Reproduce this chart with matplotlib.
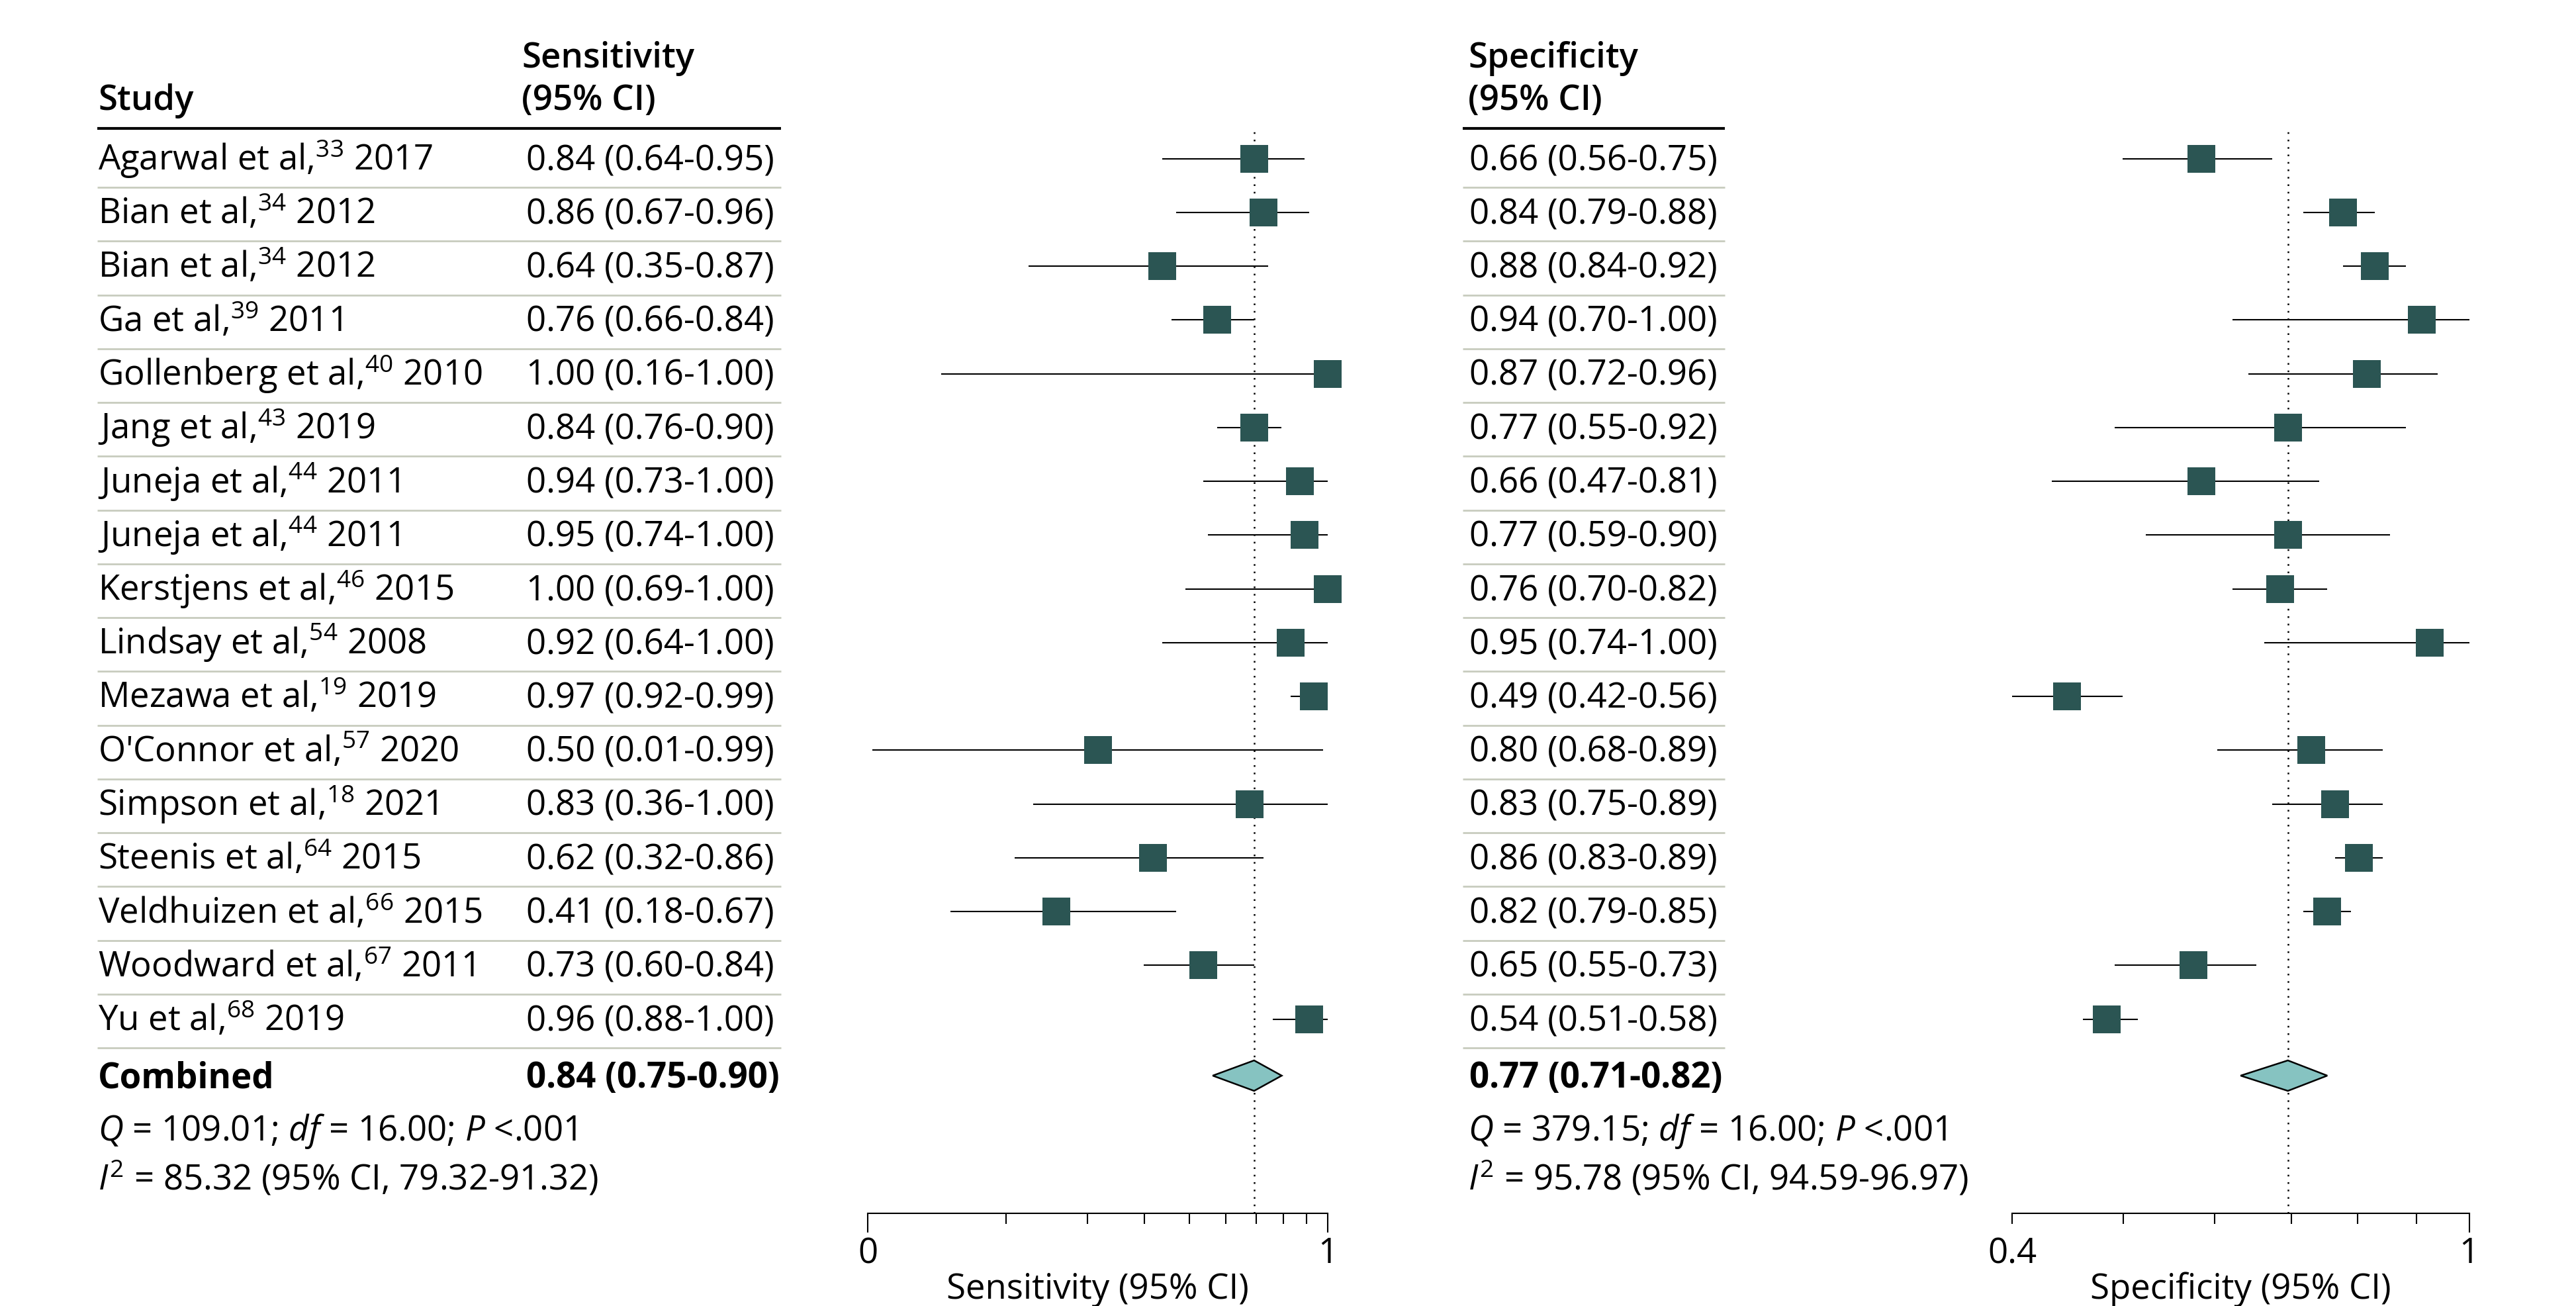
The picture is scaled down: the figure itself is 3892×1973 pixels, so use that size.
import numpy as np
import matplotlib
matplotlib.use('Agg')
import matplotlib.pyplot as plt
from matplotlib.patches import Polygon

plt.rcParams['font.family'] = ['Open Sans', 'DejaVu Sans']
plt.rcParams['mathtext.fontset'] = 'custom'
plt.rcParams['mathtext.rm'] = 'Open Sans'
plt.rcParams['mathtext.it'] = 'Open Sans:italic'
plt.rcParams['mathtext.bf'] = 'Open Sans:bold'

# data
studies = ['Agarwal et al,', 'Bian et al,', 'Bian et al,', 'Ga et al,', 'Gollenberg et al,',
           'Jang et al,', 'Juneja et al,', 'Juneja et al,', 'Kerstjens et al,', 'Lindsay et al,',
           'Mezawa et al,', "O'Connor et al,", 'Simpson et al,', 'Steenis et al,',
           'Veldhuizen et al,', 'Woodward et al,', 'Yu et al,']
refs = ['33', '34', '34', '39', '40', '43', '44', '44', '46', '54', '19', '57', '18', '64', '66', '67', '68']
years = [2017, 2012, 2012, 2011, 2010, 2019, 2011, 2011, 2015, 2008, 2019, 2020, 2021, 2015, 2015, 2011, 2019]

sens = [0.84, 0.86, 0.64, 0.76, 1.00, 0.84, 0.94, 0.95, 1.00, 0.92, 0.97, 0.50, 0.83, 0.62, 0.41, 0.73, 0.96]
sens_lo = [0.64, 0.67, 0.35, 0.66, 0.16, 0.76, 0.73, 0.74, 0.69, 0.64, 0.92, 0.01, 0.36, 0.32, 0.18, 0.60, 0.88]
sens_hi = [0.95, 0.96, 0.87, 0.84, 1.00, 0.90, 1.00, 1.00, 1.00, 1.00, 0.99, 0.99, 1.00, 0.86, 0.67, 0.84, 1.00]

spec = [0.66, 0.84, 0.88, 0.94, 0.87, 0.77, 0.66, 0.77, 0.76, 0.95, 0.49, 0.80, 0.83, 0.86, 0.82, 0.65, 0.54]
spec_lo = [0.56, 0.79, 0.84, 0.70, 0.72, 0.55, 0.47, 0.59, 0.70, 0.74, 0.42, 0.68, 0.75, 0.83, 0.79, 0.55, 0.51]
spec_hi = [0.75, 0.88, 0.92, 1.00, 0.96, 0.92, 0.81, 0.90, 0.82, 1.00, 0.56, 0.89, 0.89, 0.89, 0.85, 0.73, 0.58]

sens_comb = [0.84, 0.75, 0.90]
spec_comb = [0.77, 0.71, 0.82]
sens_stats = ['109.01', '16.00', '.001', '85.32', '79.32-91.32']
spec_stats = ['379.15', '16.00', '.001', '95.78', '94.59-96.97']

W, H = 3892, 1973
FS = 38
SQ_COL = '#2b5553'
DIA_COL = '#86c3c1'
SEP_COL = '#c8ccbe'

fig = plt.figure(figsize=(W / 100, H / 100), dpi=100)

# table layer in pixel coords
tab = fig.add_axes([0, 0, 1, 1])
tab.set_xlim(0, W)
tab.set_ylim(H, 0)
tab.axis('off')

row0 = 239.5   # centre of first row (px)
dy = 81.25     # row spacing (px)
base_off = 17.5
n = len(studies)


def fmt(v, lo, hi):
    return f'{v:.2f} ({lo:.2f}-{hi:.2f})'


def stat_lines(st):
    return (r'$Q$ = ' + st[0] + r'; $df$ = ' + st[1] + r'; $P$ <' + st[2],
            r'$I^{2}$ = ' + st[3] + ' (95% CI, ' + st[4] + ')')


# headers
tab.text(148, 166, 'Study', fontsize=FS, fontweight='semibold', va='baseline')
for x, word in [(788, 'Sensitivity'), (2218, 'Specificity')]:
    tab.text(x, 102, word, fontsize=FS, fontweight='semibold', va='baseline')
    tab.text(x, 166, '(95% CI)', fontsize=FS, fontweight='semibold', va='baseline')
tab.plot([147, 1180], [194, 194], color='black', lw=3, solid_capstyle='butt')
tab.plot([2210, 2606], [194, 194], color='black', lw=3, solid_capstyle='butt')

for i in range(n):
    yb = row0 + i * dy + base_off
    tab.text(148, yb, f'{studies[i]}$^{{{refs[i]}}}$ {years[i]}', fontsize=FS, va='baseline')
    tab.text(795, yb, fmt(sens[i], sens_lo[i], sens_hi[i]), fontsize=FS, va='baseline')
    tab.text(2220, yb, fmt(spec[i], spec_lo[i], spec_hi[i]), fontsize=FS, va='baseline')
    ys = row0 + i * dy + 43.5
    tab.plot([147, 1180], [ys, ys], color=SEP_COL, lw=2, solid_capstyle='butt')
    tab.plot([2210, 2606], [ys, ys], color=SEP_COL, lw=2, solid_capstyle='butt')

tab.text(148, 1643, 'Combined', fontsize=FS, fontweight='bold', va='baseline')
tab.text(795, 1643, fmt(*sens_comb), fontsize=FS, fontweight='bold', va='baseline')
tab.text(2220, 1643, fmt(*spec_comb), fontsize=FS, fontweight='bold', va='baseline')

for x, st in [(148, sens_stats), (2218, spec_stats)]:
    l1, l2 = stat_lines(st)
    tab.text(x, 1723, l1, fontsize=FS, va='baseline')
    tab.text(x, 1798, l2, fontsize=FS, va='baseline')


# forest panels
top_px, bot_px = 194, 1833


def to_row(p):
    return (p - row0) / dy


comb_row = to_row(1625)


def forest(x0, x1, lo_lim, hi_lim, est, lo, hi, comb, majors, labels, minors, xlabel):
    ax = fig.add_axes([x0 / W, 1 - bot_px / H, (x1 - x0) / W, (bot_px - top_px) / H])
    ax.set_facecolor('none')
    ax.set_xlim(lo_lim, hi_lim)
    ax.set_ylim(to_row(bot_px), to_row(top_px))
    rows = np.arange(len(est))
    ax.hlines(rows, lo, hi, color='black', lw=1.5, zorder=2)
    ax.plot(est, rows, 's', color=SQ_COL, markersize=30, markeredgewidth=0, zorder=3,
            clip_on=False)
    h = 23 / dy
    dia = Polygon([[comb[1], comb_row], [comb[0], comb_row - h], [comb[2], comb_row],
                   [comb[0], comb_row + h]], closed=True, facecolor=DIA_COL,
                  edgecolor='black', lw=1.8, zorder=3)
    ax.add_patch(dia)
    ax.axvline(comb[0], color='black', ls=(0, (1, 3.5)), lw=1.8, zorder=1)
    for s in ['top', 'left', 'right']:
        ax.spines[s].set_visible(False)
    ax.spines['bottom'].set_linewidth(1.5)
    ax.set_yticks([])
    ax.set_xticks(majors, labels=labels)
    ax.set_xticks(minors, minor=True)
    ax.tick_params(axis='x', which='major', length=21, width=1.5, labelsize=FS, pad=4)
    ax.tick_params(axis='x', which='minor', length=11.5, width=1.5)
    ax.set_xlabel(xlabel, fontsize=FS, labelpad=0)
    return ax


sens_minor = [0 + 1.0 * np.log10(t) for t in range(2, 10)]
ax1 = forest(1311, 2006, 0, 1, sens, sens_lo, sens_hi, sens_comb,
             [0, 1], ['0', '1'], sens_minor, 'Sensitivity (95% CI)')

spec_minor = [0.42 + 0.58 * np.log(t / 0.4) / np.log(2.5) for t in [0.5, 0.6, 0.7, 0.8, 0.9]]
ax2 = forest(3040, 3730.5, 0.42, 1.0, spec, spec_lo, spec_hi, spec_comb,
             [0.42, 1.0], ['0.4', '1'], spec_minor, 'Specificity (95% CI)')
ax2.xaxis.get_major_ticks()[0].tick1line.set_markersize(11.5)

fig.savefig('out.png', dpi=100)
